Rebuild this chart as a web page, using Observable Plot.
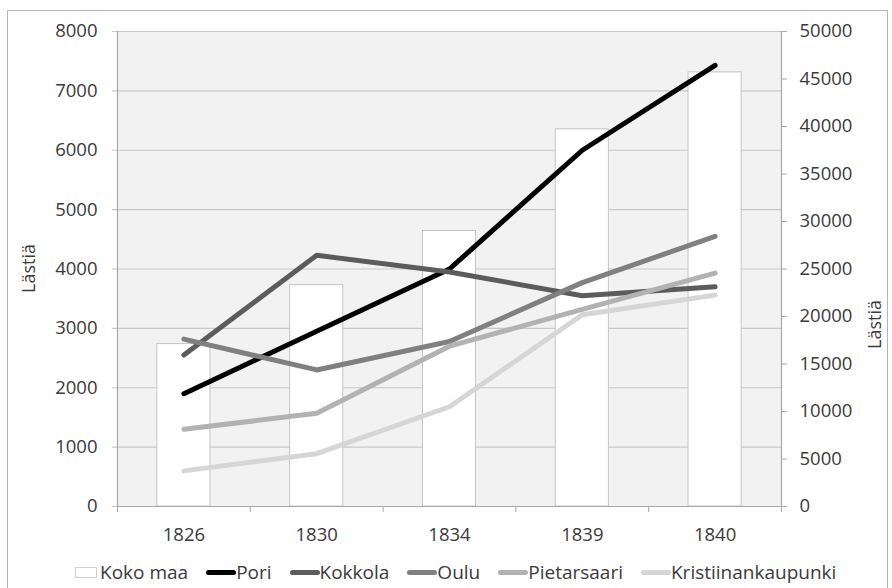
<!DOCTYPE html>
<html>
<head>
<meta charset="utf-8">
<script src="https://cdn.jsdelivr.net/npm/d3@7"></script>
<script src="https://cdn.jsdelivr.net/npm/@observablehq/plot@0.6"></script>
<style>
  html, body { margin: 0; padding: 0; background: #fff; }
  #wrap { position: relative; width: 892px; height: 588px; overflow: hidden; font-family: "Open Sans", sans-serif; color: #3a3a3a; }
  #border { position: absolute; left: 7px; top: 10px; width: 881px; height: 600px; border: 1px solid #b4b4b4; box-sizing: border-box; }
  #chart { position: absolute; left: 0; top: 0; }
  #legend { position: absolute; left: 75px; top: 559px; display: flex; align-items: center; font-size: 19px; white-space: nowrap; }
  .item { display: flex; align-items: center; margin-right: 18px; }
  .sw-box { width: 22px; height: 11px; background: #fff; border: 1px solid #d0d0d0; box-sizing: border-box; margin-right: 3px; }
  .sw-line { width: 30px; height: 5px; border-radius: 3px; margin-right: 0px; }
</style>
</head>
<body>
<div id="wrap">
  <div id="border"></div>
  <div id="chart"></div>
  <div id="legend"></div>
</div>
<script>
// ---- data ----
const years = ["1826", "1830", "1834", "1839", "1840"];
const kokoMaa = [17100, 23300, 29000, 39700, 45700];
const pori = [1900, 2950, 4000, 6000, 7430];
const kokkola = [2550, 4230, 3950, 3550, 3700];
const oulu = [2820, 2300, 2780, 3770, 4550];
const pietarsaari = [1300, 1570, 2700, 3320, 3930];
const kristiinankaupunki = [600, 890, 1680, 3230, 3560];
const leftTicks = [0, 1000, 2000, 3000, 4000, 5000, 6000, 7000, 8000];
const rightTicks = [0, 5000, 10000, 15000, 20000, 25000, 30000, 35000, 40000, 45000, 50000];
const axisTitle = "Lästiä";

const seriesNames = ["Pori", "Kokkola", "Oulu", "Pietarsaari", "Kristiinankaupunki"];
const seriesValues = [pori, kokkola, oulu, pietarsaari, kristiinankaupunki];
const seriesColors = ["#000000", "#5c5c5c", "#808080", "#b2b2b2", "#d6d6d6"];

// right axis (0..50000) mapped onto left axis (0..8000)
const k = 8000 / 50000;

const barRows = years.map((y, i) => ({i, year: y, value: kokoMaa[i]}));
const lineRows = seriesNames.flatMap((name, s) =>
  years.map((y, i) => ({name, i, year: y, value: seriesValues[s][i]})));

const textColor = "#3a3a3a";
const axisColor = "#a8a8a8";
const fs = 18.5;

const chart = Plot.plot({
  width: 892,
  height: 548,
  marginLeft: 117,
  marginRight: 111,
  marginTop: 31,
  marginBottom: 42,
  style: {fontFamily: "Open Sans, sans-serif", fontSize: fs + "px", color: textColor, background: "transparent"},
  x: {type: "linear", domain: [0, years.length], axis: null},
  y: {domain: [0, 8000], axis: null},
  color: {domain: seriesNames, range: seriesColors},
  marks: [
    Plot.frame({fill: "#f2f2f2", stroke: null}),
    Plot.ruleY(leftTicks, {stroke: "#c8c8c8", strokeWidth: 1.2, insetLeft: -5}),
    Plot.rectY(barRows, {x1: d => d.i + 0.3, x2: d => d.i + 0.7, y: d => d.value * k, fill: "#ffffff", stroke: "#c4c4c4"}),
    Plot.ruleX([0, years.length], {stroke: axisColor, strokeWidth: 1.2}),
    Plot.ruleY([0], {stroke: axisColor, strokeWidth: 1.2}),
    Plot.axisX(d3.range(0, years.length + 1), {tickSize: 6, stroke: axisColor, text: null, label: null}),
    Plot.axisX(years.map((y, i) => i + 0.5), {tickSize: 0, tickPadding: 21, tickFormat: v => years[v - 0.5], fill: textColor, fontSize: fs, label: null}),
    Plot.axisY(leftTicks, {tickSize: 0, tickPadding: 20, fill: textColor, fontSize: fs, tickFormat: d => String(d), label: null}),
    Plot.axisY(rightTicks.map(v => v * k), {anchor: "right", tickSize: 5, stroke: axisColor, tickPadding: 13, fill: textColor, fontSize: fs, tickFormat: d => String(Math.round(d / k)), label: null}),
    Plot.lineY(lineRows, {x: d => d.i + 0.5, y: "value", z: "name", stroke: "name", strokeWidth: 5, strokeLinecap: "round", strokeLinejoin: "round"}),
    Plot.text([axisTitle], {frameAnchor: "left", dx: -88, dy: 24, rotate: -90, fill: textColor, fontSize: 18}),
    Plot.text([axisTitle], {frameAnchor: "right", dx: 94, dy: 31, rotate: -90, fill: textColor, fontSize: 18})
  ]
});
document.getElementById("chart").appendChild(chart);

// legend
const legend = document.getElementById("legend");
const addItem = (label, swatch) => {
  const item = document.createElement("div");
  item.className = "item";
  item.appendChild(swatch);
  const t = document.createElement("span");
  t.textContent = label;
  item.appendChild(t);
  legend.appendChild(item);
};
const box = document.createElement("div");
box.className = "sw-box";
addItem("Koko maa", box);
seriesNames.forEach((name, s) => {
  const sw = document.createElement("div");
  sw.className = "sw-line";
  sw.style.background = seriesColors[s];
  addItem(name, sw);
});
</script>
</body>
</html>
